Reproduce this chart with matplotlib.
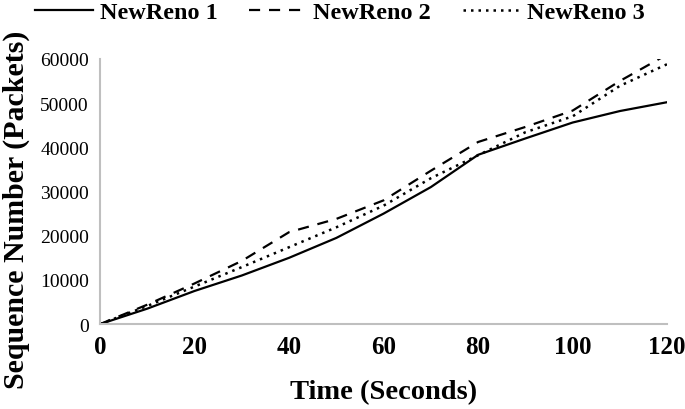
import matplotlib
matplotlib.use("Agg")
import matplotlib.pyplot as plt
from matplotlib.lines import Line2D

time_s = [0, 10, 20, 30, 40, 50, 60, 70, 80, 90, 100, 110, 120]
newreno1 = [0, 3500, 7500, 11000, 15000, 19500, 25000, 31000, 38300, 42000, 45600, 48200, 50200]
newreno2 = [0, 4400, 9200, 14300, 20800, 23800, 28000, 34700, 41200, 44600, 48300, 55000, 61000]
newreno3 = [0, 4100, 8500, 12900, 17400, 21900, 26800, 33000, 38200, 43400, 47000, 53900, 58800]
series_names = ["NewReno 1", "NewReno 2", "NewReno 3"]
x_ticks = [0, 20, 40, 60, 80, 100, 120]
y_ticks = [0, 10000, 20000, 30000, 40000, 50000, 60000]

plt.rcParams['font.family'] = ['Liberation Serif', 'DejaVu Serif']

fig = plt.figure(figsize=(6.85, 4.10), dpi=100)
ax = fig.add_axes([0.146, 0.207, 0.828, 0.647])

ax.plot(time_s, newreno1, color='black', lw=1.6, linestyle='-')
ax.plot(time_s, newreno2, color='black', lw=1.6, linestyle=(0, (5, 4)))
ax.plot(time_s, newreno3, color='black', lw=1.8, linestyle=(0, (1, 2)))

ax.set_xlim(0, 120)
ax.set_ylim(0, 60000)
ax.set_xticks(x_ticks)
ax.set_yticks(y_ticks)
ax.set_xticklabels([str(v) for v in x_ticks], fontsize=18, fontweight='bold')
ax.set_yticklabels([str(v) for v in y_ticks], fontsize=14)
ax.tick_params(axis='both', length=0, pad=8)
for s in ['top', 'right']:
    ax.spines[s].set_visible(False)
for s in ['left', 'bottom']:
    ax.spines[s].set_color('#bfbfbf')
    ax.spines[s].set_linewidth(1.5)

ax.set_xlabel("Time (Seconds)", fontsize=20.5, fontweight='bold', labelpad=15)
ax.set_ylabel("Sequence Number (Packets)", fontsize=21.5, fontweight='bold')
ax.yaxis.set_label_coords(-0.123, 0.434)

handles = [
    Line2D([], [], color='black', lw=1.6, linestyle='-'),
    Line2D([], [], color='black', lw=1.6, linestyle=(0, (5, 4))),
    Line2D([], [], color='black', lw=1.8, linestyle=(0, (1, 2))),
]
fig.legend(handles, series_names, loc='center', bbox_to_anchor=(340 / 685, 1 - 13 / 410), ncol=3,
           frameon=False, prop={'size': 17.5, 'weight': 'bold'}, handlelength=2.4,
           columnspacing=1.3, handletextpad=0.25, borderpad=0, borderaxespad=0)

fig.savefig("out.png", dpi=100)
